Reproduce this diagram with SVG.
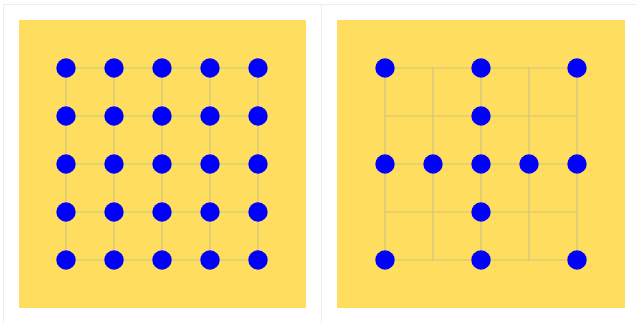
<svg xmlns="http://www.w3.org/2000/svg" width="636" height="323" viewBox="0 0 636 323">
<defs>
<style>
.frame{fill:none;stroke:#ececec;stroke-width:1}
.panel{fill:#ffdd5f}
.grid{stroke:#d2c180;stroke-width:1.2;fill:none}
.dot{fill:#0000ff}
</style>
</defs>
<rect width="636" height="323" fill="#ffffff"/>
<g id="frame">
<line class="frame" x1="3.5" y1="4.5" x2="636" y2="4.5"/>
<line class="frame" x1="3.5" y1="4.5" x2="3.5" y2="323"/>
<line class="frame" x1="321.5" y1="4.5" x2="321.5" y2="323"/>
</g>
<g id="panel-left">
<rect class="panel" x="19" y="20" width="287" height="288"/>
<g id="connectors-left" class="grid">
<path d="M66 68H258M66 116H258M66 164H258M66 212H258M66 260H258M66 68V260M114 68V260M162 68V260M210 68V260M258 68V260"/>
</g>
<g id="nodes-left" class="dot">
<circle cx="66" cy="68" r="9.7"/><circle cx="114" cy="68" r="9.7"/><circle cx="162" cy="68" r="9.7"/><circle cx="210" cy="68" r="9.7"/><circle cx="258" cy="68" r="9.7"/>
<circle cx="66" cy="116" r="9.7"/><circle cx="114" cy="116" r="9.7"/><circle cx="162" cy="116" r="9.7"/><circle cx="210" cy="116" r="9.7"/><circle cx="258" cy="116" r="9.7"/>
<circle cx="66" cy="164" r="9.7"/><circle cx="114" cy="164" r="9.7"/><circle cx="162" cy="164" r="9.7"/><circle cx="210" cy="164" r="9.7"/><circle cx="258" cy="164" r="9.7"/>
<circle cx="66" cy="212" r="9.7"/><circle cx="114" cy="212" r="9.7"/><circle cx="162" cy="212" r="9.7"/><circle cx="210" cy="212" r="9.7"/><circle cx="258" cy="212" r="9.7"/>
<circle cx="66" cy="260" r="9.7"/><circle cx="114" cy="260" r="9.7"/><circle cx="162" cy="260" r="9.7"/><circle cx="210" cy="260" r="9.7"/><circle cx="258" cy="260" r="9.7"/>
</g>
</g>
<g id="panel-right">
<rect class="panel" x="337" y="20" width="288" height="288"/>
<g id="connectors-right" class="grid">
<path d="M385 68H577M385 116H577M385 164H577M385 212H577M385 260H577M385 68V260M433 68V260M481 68V260M529 68V260M577 68V260"/>
</g>
<g id="nodes-right" class="dot">
<circle cx="385" cy="68" r="9.7"/><circle cx="481" cy="68" r="9.7"/><circle cx="577" cy="68" r="9.7"/>
<circle cx="481" cy="116" r="9.7"/>
<circle cx="385" cy="164" r="9.7"/><circle cx="433" cy="164" r="9.7"/><circle cx="481" cy="164" r="9.7"/><circle cx="529" cy="164" r="9.7"/><circle cx="577" cy="164" r="9.7"/>
<circle cx="481" cy="212" r="9.7"/>
<circle cx="385" cy="260" r="9.7"/><circle cx="481" cy="260" r="9.7"/><circle cx="577" cy="260" r="9.7"/>
</g>
</g>
</svg>
